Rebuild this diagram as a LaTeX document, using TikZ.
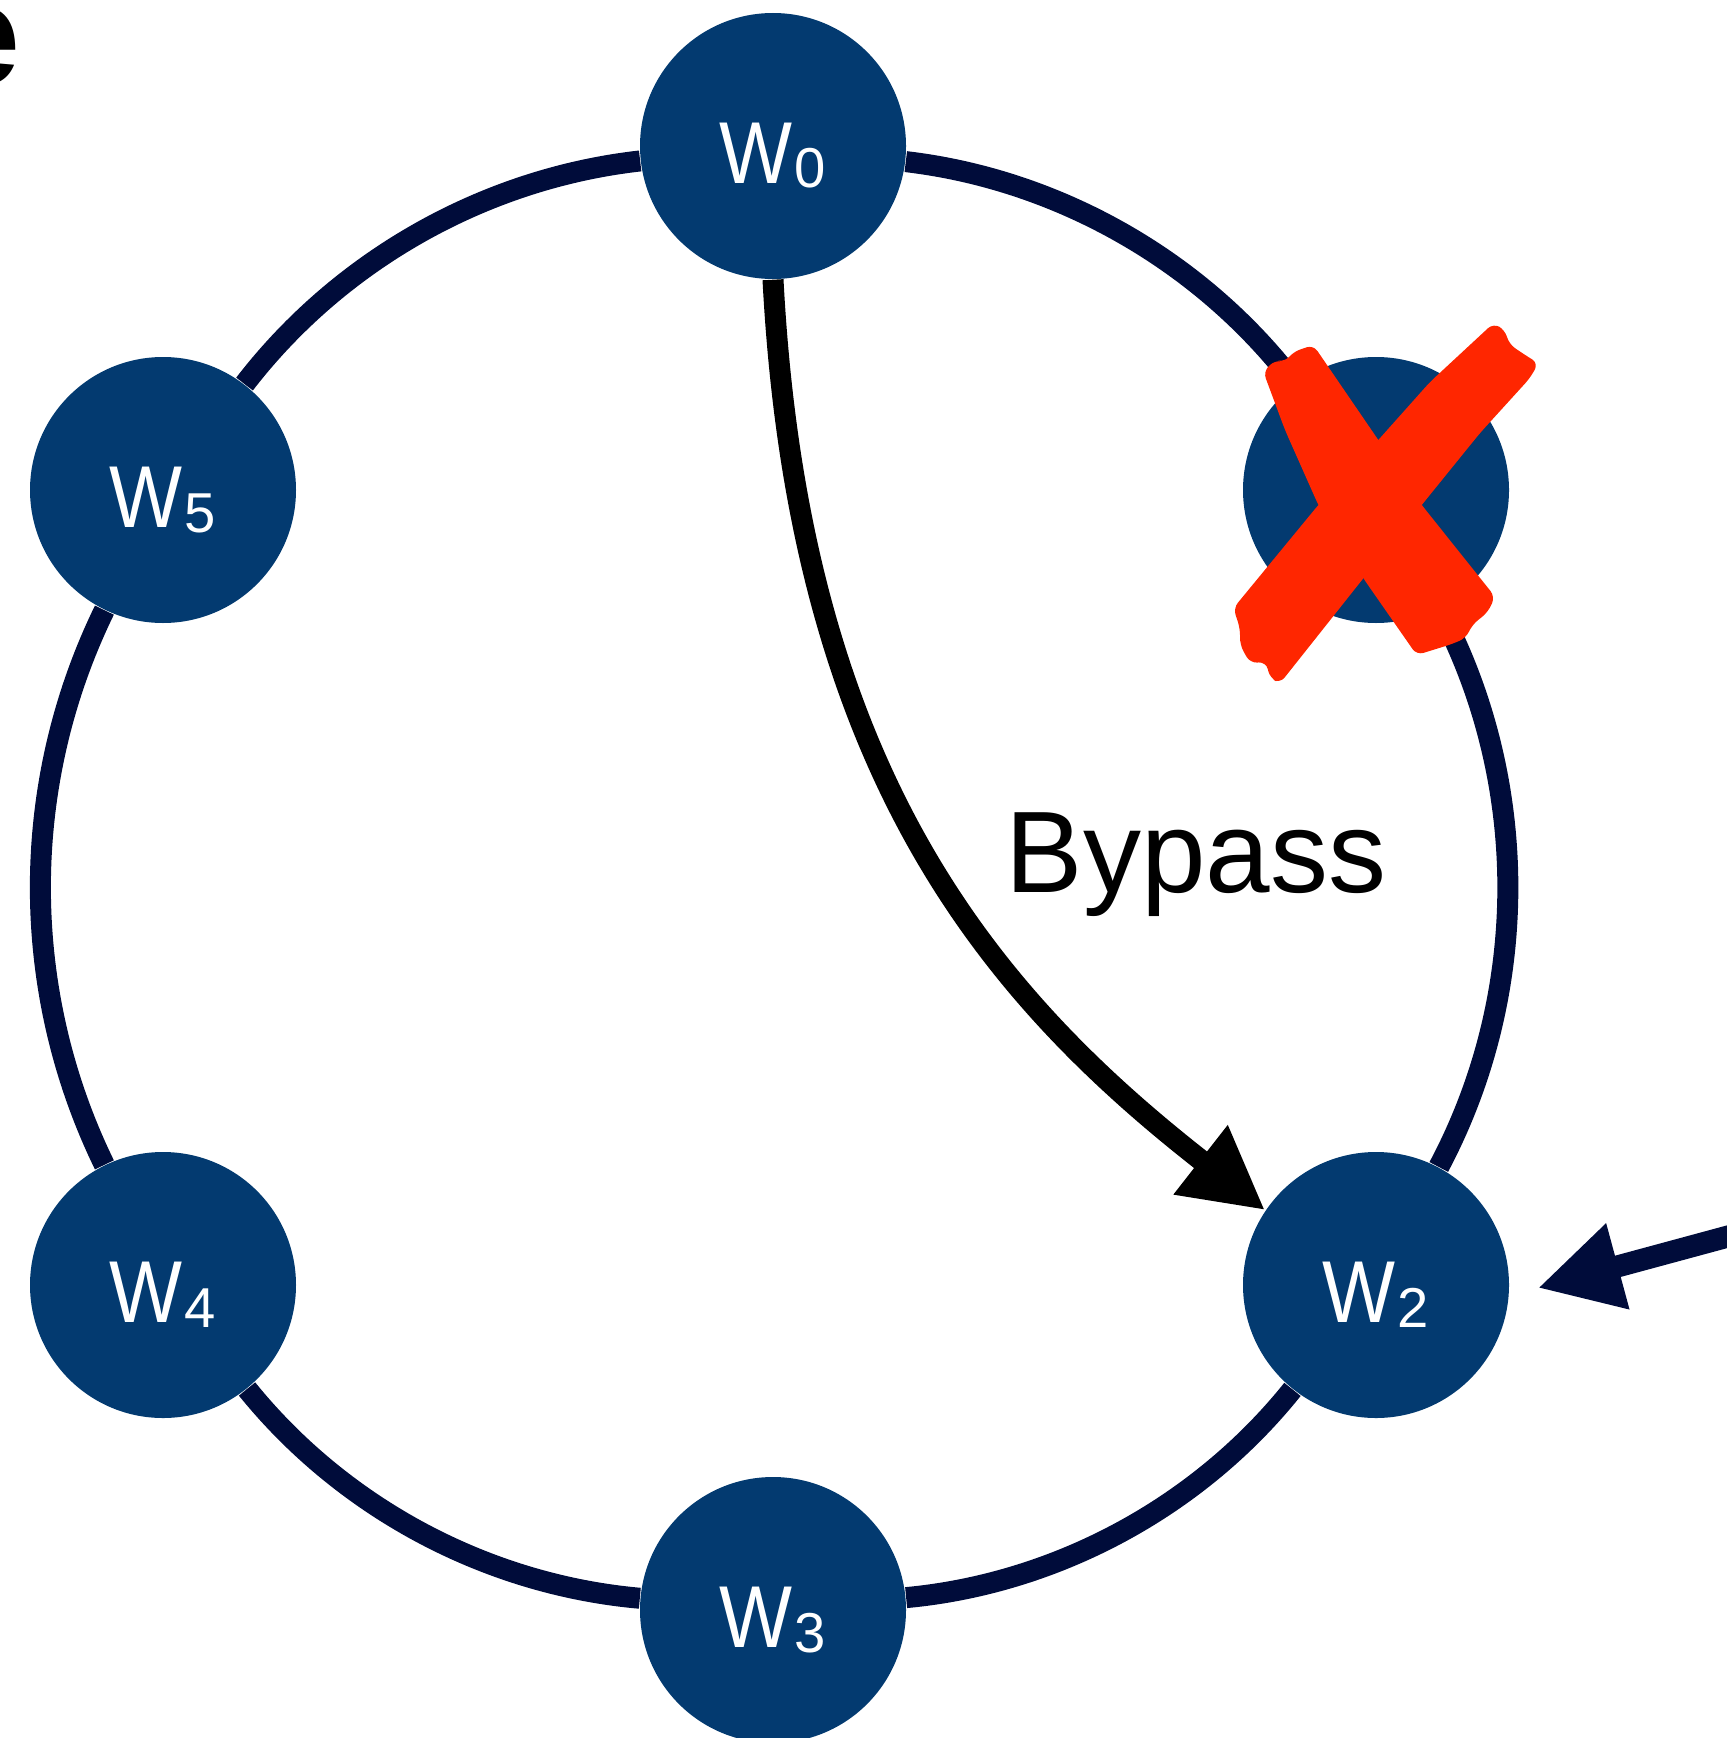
\documentclass[tikz,border=0pt]{standalone}
\usepackage{fontspec}
\setmainfont{Liberation Sans}
\newfontfamily\wfont[FakeStretch=0.88]{Liberation Sans}
\usetikzlibrary{arrows.meta}
\definecolor{nodeblue}{RGB}{3,58,112}
\definecolor{ringnavy}{RGB}{0,12,58}
\definecolor{crossred}{RGB}{255,38,0}
% worker name with a lowered index
\newcommand{\wname}[1]{{\wfont W}\kern0.6pt\raisebox{-0.5mm}{\fontsize{16}{16}\selectfont #1}}

\begin{document}
\begin{tikzpicture}[worker/.style={circle,fill=nodeblue,minimum size=2.66cm,inner sep=0pt,
                     text=white,font=\fontsize{25}{30}\selectfont,text height=0.76cm,text depth=0.02cm},
                   ring/.style={draw=ringnavy,line width=0.21cm,looseness=0.88},
                   bypass/.style={draw=black,line width=0.21cm,-{Triangle[length=0.82cm,width=0.82cm]}},
                   feed/.style={draw=ringnavy,line width=0.22cm,-{Triangle[length=0.83cm,width=0.83cm]}}
                   ]
    \useasboundingbox (0,0) rectangle (17.26,-17.38);

    \node[anchor=base east,inner sep=0pt,font=\bfseries\fontsize{41}{41}\selectfont](cut) at (0.21,-0.85){e};

    \node[worker](w0) at (7.73,-1.46){\wname{0}};
    \node[worker](w1) at (13.76,-4.90){};
    \node[worker](w2) at (13.76,-12.85){\wname{2}};
    \node[worker](w3) at (7.73,-16.10){\wname{3}};
    \node[worker](w4) at (1.63,-12.85){\wname{4}};
    \node[worker](w5) at (1.63,-4.90){\wname{5}};

    \path[ring] (w0) edge [bend left=23] (w1)
    (w1) edge [bend left=28,looseness=0.9] (w2)
    (w2) edge [bend left=23] (w3)
    (w3) edge [bend left=23] (w4)
    (w4) edge [bend left=26,looseness=0.9] (w5)
    (w5) edge [bend left=23] (w0);

    \draw[bypass] (w0.south) to[out=-87,in=142,out looseness=1.2,in looseness=0.85] (w2.146);
    \node[anchor=base west,inner sep=0pt,font=\fontsize{33}{40}\selectfont](bypasslbl) at (10.05,-8.92){Bypass};

    % incoming request from the right
    \coordinate (src) at (18.0,-12.17);
    \draw[feed] (src) -- ([xshift=2.8mm,yshift=-0.3mm]w2.east);

    % w1 is down
    \fill[crossred,rounded corners=2pt] (12.633,-3.717) -- (12.75,-3.60) -- (12.85,-3.62) -- (12.93,-3.52) -- (13.133,-3.45)
      -- (13.783,-4.40) -- (14.217,-5.05) -- (14.95,-5.967) -- (14.88,-6.12) -- (14.72,-6.25) -- (14.66,-6.38)
      -- (14.52,-6.44) -- (14.167,-6.55) -- (13.633,-5.783) -- (13.183,-5.05) -- (12.85,-4.30) -- cycle;
    \fill[crossred,rounded corners=2pt] (14.933,-3.233) -- (15.05,-3.30) -- (15.09,-3.44) -- (15.22,-3.53) -- (15.383,-3.633)
      -- (15.30,-3.78) -- (14.80,-4.33) -- (14.217,-5.05) -- (13.633,-5.783)
      -- (12.80,-6.833) -- (12.70,-6.78) -- (12.66,-6.62) -- (12.50,-6.63) -- (12.40,-6.45) -- (12.40,-6.28) -- (12.333,-6.083)
      -- (13.183,-5.05) -- (13.783,-4.40) -- (14.30,-3.82) -- cycle;

\end{tikzpicture}
\end{document}
